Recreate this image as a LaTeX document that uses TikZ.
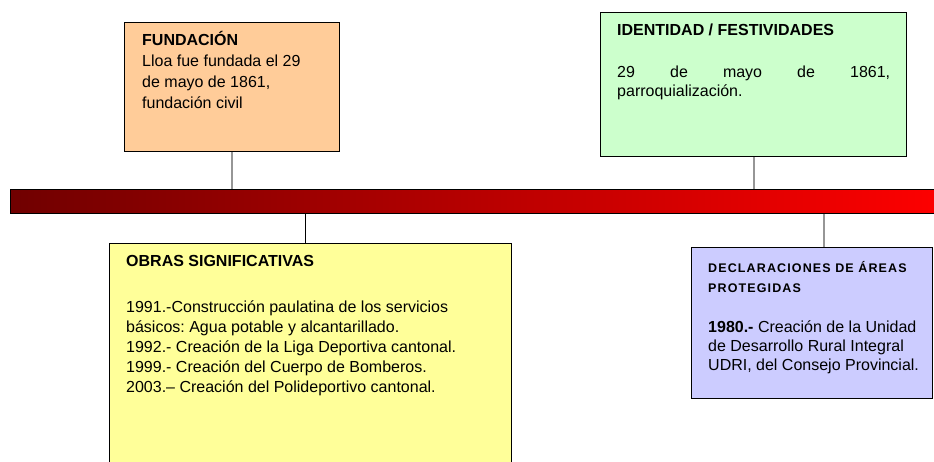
\documentclass[tikz,border=0pt]{standalone}
\usepackage{fontspec}
\setmainfont{Liberation Sans}
\frenchspacing
\definecolor{peach}{RGB}{255,204,153}
\definecolor{mint}{RGB}{204,255,204}
\definecolor{paleyellow}{RGB}{255,255,153}
\definecolor{lavender}{RGB}{204,204,255}
\definecolor{darkred}{RGB}{112,0,0}
\definecolor{linkgray}{RGB}{150,150,150}
\begin{document}
\frenchspacing
\begin{tikzpicture}[x=1pt,y=-1pt,
  box/.style={draw=black, line width=1.3pt, rectangle, inner sep=0pt, anchor=north west},
  txt/.style={anchor=base west, inner sep=0pt, align=left, text=black},
  link/.style={draw=linkgray, line width=1.8pt},
  darklink/.style={draw=black, line width=1pt},
  bar/.style={draw=black, line width=1.3pt, rectangle, inner sep=0pt, anchor=north west,
    shading=axis, left color=darkred, right color=red, shading angle=90}
]
\useasboundingbox (0,0) rectangle (934,462);
\clip (0,0) rectangle (934,462);

% timeline bar
\node[bar, minimum width=940pt, minimum height=24pt] (bar) at (10,189) {};

% boxes
\node[box, fill=peach, minimum width=215pt, minimum height=129pt] (fund) at (124,22) {};
\node[box, fill=mint, minimum width=306pt, minimum height=144pt] (iden) at (600,12) {};
\node[box, fill=paleyellow, minimum width=402pt, minimum height=240pt] (obras) at (109,243) {};
\node[box, fill=lavender, minimum width=241pt, minimum height=151pt] (decl) at (691,247) {};

% connector anchor points
\coordinate (obrasTop) at (305,243);
\coordinate (declTop) at (824,247);

\draw[link] (fund.south) -- (fund.south |- bar.north);
\draw[link] (iden.south) -- (iden.south |- bar.north);
\draw[darklink] (bar.south -| obrasTop) -- (obrasTop);
\draw[link] (bar.south -| declTop) -- (declTop);

% texts (multi-line nodes: base = last line's baseline)
\node[txt, font=\fontsize{16}{21}\selectfont] (fundt) at (142,109)
  {\textbf{FUNDACIÓN}\\Lloa fue fundada el 29\\de mayo de 1861,\\fundación civil};

\node[txt, font=\bfseries\fontsize{16}{20}\selectfont] (ident) at (617,36) {IDENTIDAD / FESTIVIDADES};
\node[txt, anchor=base west, text width=273pt, align=justify, font=\fontsize{16}{19}\selectfont] (idenb) at (617,78)
  {29 de mayo de 1861,\linebreak parroquialización.};

\node[txt, font=\bfseries\fontsize{16}{20}\selectfont] (obrast) at (126,267) {OBRAS SIGNIFICATIVAS};
\node[txt, font=\fontsize{16}{20}\selectfont] (obrasb) at (126,392)
  {1991.-Construcción paulatina de los servicios\\
   básicos: Agua potable y alcantarillado.\\
   1992.- Creación de la Liga Deportiva cantonal.\\
   1999.- Creación del Cuerpo de Bomberos.\\
   2003.– Creación del Polideportivo cantonal.};

\node[txt, font=\bfseries\fontsize{12.5}{20}\selectfont\addfontfeatures{LetterSpace=9}] (declt) at (708,292)
  {DECLARACIONES DE ÁREAS\\PROTEGIDAS};
\node[txt, font=\fontsize{16}{19}\selectfont] (declb) at (708,370)
  {\textbf{1980.-} Creación de la Unidad\\de Desarrollo Rural Integral\\UDRI, del Consejo Provincial.};
\end{tikzpicture}
\end{document}
